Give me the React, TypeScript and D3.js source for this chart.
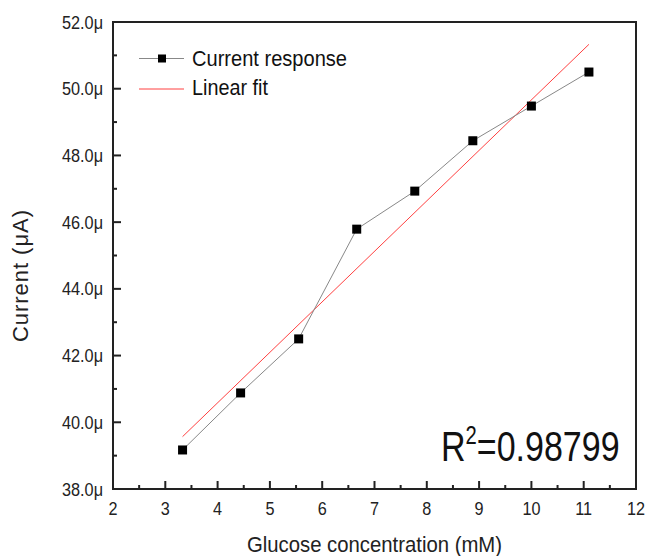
import React from "react";
import * as d3 from "d3";

const concentrations = [3.33, 4.44, 5.55, 6.66, 7.77, 8.88, 10.0, 11.1];
const currents = [39.17, 40.88, 42.5, 45.79, 46.93, 48.44, 49.48, 50.5];
const fitX = [3.33, 11.1];
const fitY = [39.57, 51.33];
const xTicks = [2, 3, 4, 5, 6, 7, 8, 9, 10, 11, 12];
const yTicks = [38, 40, 42, 44, 46, 48, 50, 52];
const xMinor = [2.5, 3.5, 4.5, 5.5, 6.5, 7.5, 8.5, 9.5, 10.5, 11.5];
const yMinor = [39, 41, 43, 45, 47, 49, 51];

const W = 647, H = 556;
const L = 113, R = 636, T = 22, B = 489;
const font = "'Liberation Sans', Arial, sans-serif";

export default function App() {
  const x = d3.scaleLinear().domain([2, 12]).range([L, R]);
  const y = d3.scaleLinear().domain([38, 52]).range([B, T]);
  const line = d3.line<number>().x((_, i) => x(concentrations[i])).y((d) => y(d));
  const fitLine = d3.line<number>().x((_, i) => x(fitX[i])).y((d) => y(d));
  const ms = 9;
  return (
    <svg width={W} height={H} style={{ position: "absolute", left: 0, top: 0, background: "#fff" }} fontFamily={font}>
      <rect x={0} y={0} width={W} height={H} fill="#fff" />
      <path d={fitLine(fitY) || ""} fill="none" stroke="#ff4040" strokeWidth={1} />
      <path d={line(currents) || ""} fill="none" stroke="#888" strokeWidth={1} />
      {currents.map((v, i) => (
        <rect key={i} x={x(concentrations[i]) - ms / 2} y={y(v) - ms / 2} width={ms} height={ms} fill="#000" />
      ))}
      <rect x={L} y={T} width={R - L} height={B - T} fill="none" stroke="#222" strokeWidth={2} />
      {xTicks.map((t) => (
        <g key={"x" + t}>
          <line x1={x(t)} x2={x(t)} y1={B} y2={B - 8} stroke="#222" strokeWidth={2} />
          <text x={x(t)} y={B + 26} fontSize={18} textAnchor="middle" fill="#222"
            transform={`translate(${x(t)},0) scale(0.9,1) translate(${-x(t)},0)`}>{t}</text>
        </g>
      ))}
      {xMinor.map((t) => (
        <line key={"xm" + t} x1={x(t)} x2={x(t)} y1={B} y2={B - 4} stroke="#222" strokeWidth={2} />
      ))}
      {yTicks.map((t) => (
        <g key={"y" + t}>
          <line x1={L} x2={L + 8} y1={y(t)} y2={y(t)} stroke="#222" strokeWidth={2} />
          <text x={L - 10} y={y(t) + 6.5} fontSize={18} textAnchor="end" fill="#222"
            textLength={41} lengthAdjust="spacingAndGlyphs">{t.toFixed(1) + "μ"}</text>
        </g>
      ))}
      {yMinor.map((t) => (
        <line key={"ym" + t} x1={L} x2={L + 4} y1={y(t)} y2={y(t)} stroke="#222" strokeWidth={2} />
      ))}
      <text x={247} y={552} fontSize={22} fill="#222" textLength={255} lengthAdjust="spacingAndGlyphs">Glucose concentration (mM)</text>
      <text transform={`translate(28,342) rotate(-90)`} fontSize={22} fill="#222" textLength={132} lengthAdjust="spacing">Current (μA)</text>
      <line x1={139} x2={184} y1={58.5} y2={58.5} stroke="#888" strokeWidth={1} />
      <rect x={162 - 4} y={58.5 - 4} width={8} height={8} fill="#000" />
      <text x={192} y={66} fontSize={22} fill="#111" textLength={155} lengthAdjust="spacingAndGlyphs">Current response</text>
      <line x1={139} x2={184} y1={89} y2={89} stroke="#ff4040" strokeWidth={1} />
      <text x={192} y={95} fontSize={22} fill="#111" textLength={76} lengthAdjust="spacingAndGlyphs">Linear fit</text>
      <g transform="translate(441,461) scale(0.81,1)">
        <text x={0} y={0} fontSize={42} fill="#111">
          R<tspan dy={-17} fontSize={25}>2</tspan><tspan dy={17}>=0.98799</tspan>
        </text>
      </g>
    </svg>
  );
}
